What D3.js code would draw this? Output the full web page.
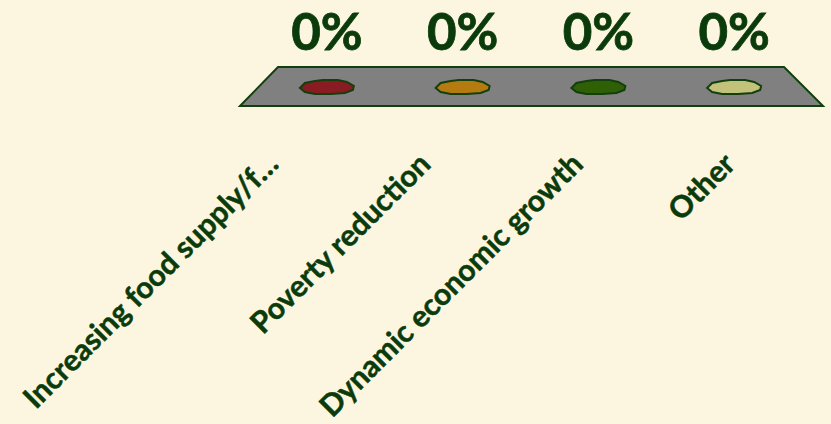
<!DOCTYPE html>
<html>
<head>
<meta charset="utf-8">
<script src="https://cdn.jsdelivr.net/npm/d3@7"></script>
<style>
  body { margin: 0; background: #fcf6e1; }
  svg { display: block; }
</style>
</head>
<body>
<div id="chart"></div>
<script>
// chart data
var categories = ["Increasing food supply/f\u2026", "Poverty reduction", "Dynamic economic growth", "Other"];
var values = [0, 0, 0, 0];
var colors = ["#891c22", "#b57a10", "#2f6005", "#c3c27a"];

var width = 831, height = 424;

var svg = d3.select("#chart")
  .append("svg")
    .attr("width", width)
    .attr("height", height);

svg.append("rect")
  .attr("width", width).attr("height", height)
  .attr("fill", "#fcf6e1");

// x scale for the category centers
var x = d3.scaleBand()
  .domain(categories)
  .range([259, 802]);

// scale for the rotated axis labels (end points)
var xLabel = d3.scalePoint()
  .domain(categories)
  .range([280, 737]);

// the "floor" of the 3d chart
var floorTop = 67, floorBottom = 106;
svg.append("path")
  .attr("d", d3.line()([[240, floorBottom], [278, floorTop], [784, floorTop], [823, floorBottom]]) + "Z")
  .attr("fill", "#808080")
  .attr("stroke", "#123f0d")
  .attr("stroke-width", 2);

// blob template for zero-height bars
var blob = [[-27, 1], [-22, -4], [-12, -6], [-4, -7], [11, -7], [20, -5], [27, -1], [26, 3], [18, 6], [4, 7], [-12, 7], [-22, 5]];
var blobLine = d3.line().curve(d3.curveLinearClosed);

svg.selectAll(".blob")
  .data(categories)
  .enter()
  .append("path")
  .attr("class", "blob")
  .attr("transform", function(d){ return "translate(" + (x(d) + x.bandwidth() / 2) + "," + 87 + ")"; })
  .attr("d", blobLine(blob))
  .attr("fill", function(d, i){ return colors[i]; })
  .attr("stroke", "#123f0d")
  .attr("stroke-width", 2);

// value labels
svg.selectAll(".val")
  .data(values)
  .enter()
  .append("text")
  .attr("class", "val")
  .attr("x", function(d, i){ return x(categories[i]) + x.bandwidth() / 2; })
  .attr("y", 50)
  .attr("text-anchor", "middle")
  .attr("font-family", "Lato")
  .attr("font-weight", "bold")
  .attr("font-size", "51px")
  .attr("fill", "#0b3b0b")
  .attr("stroke", "#0b3b0b")
  .attr("stroke-width", 0.8)
  .text(function(d){ return d + "%"; });

// category labels, rotated
svg.selectAll(".cat")
  .data(categories)
  .enter()
  .append("text")
  .attr("class", "cat")
  .attr("text-anchor", "end")
  .attr("font-family", "Lato")
  .attr("font-weight", "bold")
  .attr("font-size", "30px")
  .attr("fill", "#0b3b0b")
  .attr("stroke", "#0b3b0b")
  .attr("stroke-width", 0.5)
  .attr("transform", function(d){ return "translate(" + xLabel(d) + ",166) rotate(-45)"; })
  .text(function(d){ return d; });
</script>
</body>
</html>
